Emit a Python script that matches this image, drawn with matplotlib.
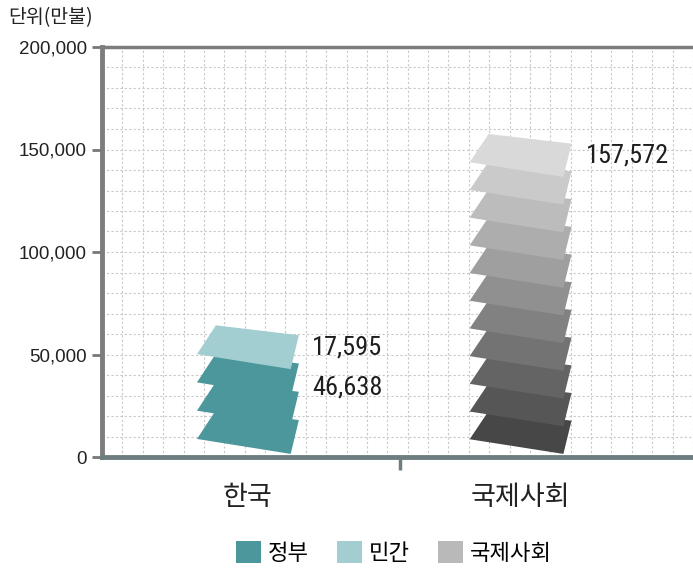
import numpy as np
import matplotlib
matplotlib.use('Agg')
import matplotlib.pyplot as plt
from matplotlib.patches import Polygon, Patch
from matplotlib.ticker import MultipleLocator, FixedLocator
from matplotlib.transforms import blended_transform_factory
from matplotlib.colors import to_rgb

plt.rcParams['font.family'] = ['Noto Sans CJK KR', 'DejaVu Sans']

# ---- data ----
categories = ['한국', '국제사회']
korea_values = [46638, 17595]          # 정부, 민간
intl_values = [157572]                 # 국제사회
legend_labels = ['정부', '민간', '국제사회']
y_ticks = [0, 50000, 100000, 150000, 200000]
unit_label = '단위(만불)'

# ---- styles ----
GOV = '#4c979b'
PRIV = '#a2ced1'
INTL_DARK = '#474747'
INTL_LIGHT = '#d9d9d9'
NUM_FONT = ['Liberation Sans Narrow', 'Roboto Condensed', 'Noto Sans Condensed',
            'DejaVu Sans Condensed', 'Liberation Sans']
TICK_FONT = ['Liberation Sans', 'DejaVu Sans']

SLAB_UNIT = 14500   # roughly one slab per this many units
BASE = 1500         # gap between axis and lowest slab corner
cat_x = [7.16, 20.54]


def slab_colors_korea(counts):
    return [GOV] * counts[0] + [PRIV] * counts[1]


def slab_colors_grad(n):
    a, b = np.array(to_rgb(INTL_DARK)), np.array(to_rgb(INTL_LIGHT))
    return [tuple(a + (b - a) * t) for t in np.linspace(0, 1, n)]


def draw_stack(ax, cx, values, color_fn):
    counts = [max(1, round(v / SLAB_UNIT)) for v in values]
    n = sum(counts)
    total = sum(values)
    step = (total - BASE) / (n + 0.55)
    colors = color_fn(counts) if len(values) > 1 else color_fn(n)
    for i, c in enumerate(colors):
        yb = BASE + i * step
        pts = [(cx - 2.5, yb + 0.53 * step),
               (cx + 2.1, yb),
               (cx + 2.5, yb + 1.2 * step),
               (cx - 1.57, yb + 1.55 * step)]
        ax.add_patch(Polygon(pts, closed=True, facecolor=c,
                             edgecolor='none', zorder=3))
    return total


fig = plt.figure(figsize=(6.93, 5.69), dpi=100)
ax = fig.add_axes([102 / 693, 1 - 457 / 569, 1 - 102 / 693, 410 / 569])

ax.set_xlim(0, 29)
ax.set_ylim(0, 200000)

# grid
ax.xaxis.set_minor_locator(MultipleLocator(1))
ax.yaxis.set_minor_locator(MultipleLocator(10000))
ax.set_yticks(y_ticks)
ax.set_yticklabels([f'{v:,}' for v in y_ticks], family=TICK_FONT,
                   fontsize=13.5, color='#222222')
ax.xaxis.set_major_locator(FixedLocator([14.6]))
ax.set_xticklabels([''])
ax.grid(axis='x', which='minor', linestyle=(0, (2, 2)), color='#c8c8c8', lw=0.8)
ax.grid(axis='y', which='both', linestyle=(0, (2, 2)), color='#c8c8c8', lw=0.8)
ax.set_axisbelow(True)

ax.tick_params(axis='y', which='major', length=7, width=2, color='#777777', pad=4)
ax.tick_params(axis='y', which='minor', length=0)
ax.tick_params(axis='x', which='minor', length=0)
ax.tick_params(axis='x', which='major', length=9, width=2.5, color='#6e7e80')

for side in ['left', 'top']:
    ax.spines[side].set_color('#7d7d7d')
ax.spines['left'].set_linewidth(3.5)
ax.spines['top'].set_linewidth(2.5)
ax.spines['bottom'].set_color('#6e7e80')
ax.spines['bottom'].set_linewidth(3.5)
ax.spines['right'].set_visible(False)

# stacks
k_total = draw_stack(ax, cat_x[0], korea_values, slab_colors_korea)
i_total = draw_stack(ax, cat_x[1], intl_values, slab_colors_grad)

# value labels
num_kw = dict(family=NUM_FONT, fontstretch='condensed', fontsize=19,
              va='center', ha='left', color='#1e1e1e')
ax.text(cat_x[0] + 3.15, k_total - 11000, f'{korea_values[1]:,}', **num_kw)
ax.text(cat_x[0] + 3.15, k_total - 30500, f'{korea_values[0]:,}', **num_kw)
ax.text(cat_x[1] + 3.2, i_total - 10500, f'{intl_values[0]:,}', **num_kw)

# category labels
trans = blended_transform_factory(ax.transData, ax.transAxes)
for x, lab in zip(cat_x, categories):
    ax.text(x, -0.098, lab, transform=trans, ha='center', va='center',
            fontsize=19.5, color='#222222')

fig.text(8 / 693, 1 - 18 / 569, unit_label, ha='left', va='center',
         fontsize=14, color='#222222')

handles = [Patch(facecolor=GOV, edgecolor='none'),
           Patch(facecolor=PRIV, edgecolor='none'),
           Patch(facecolor='#b9b9b9', edgecolor='none')]
fig.legend(handles, legend_labels, loc='center', bbox_to_anchor=(0.568, 0.028),
           ncol=3, frameon=False, fontsize=16, handlelength=1.15, handleheight=1.15,
           handletextpad=0.3, columnspacing=1.25, borderaxespad=0)

fig.savefig('out.png', dpi=100)
